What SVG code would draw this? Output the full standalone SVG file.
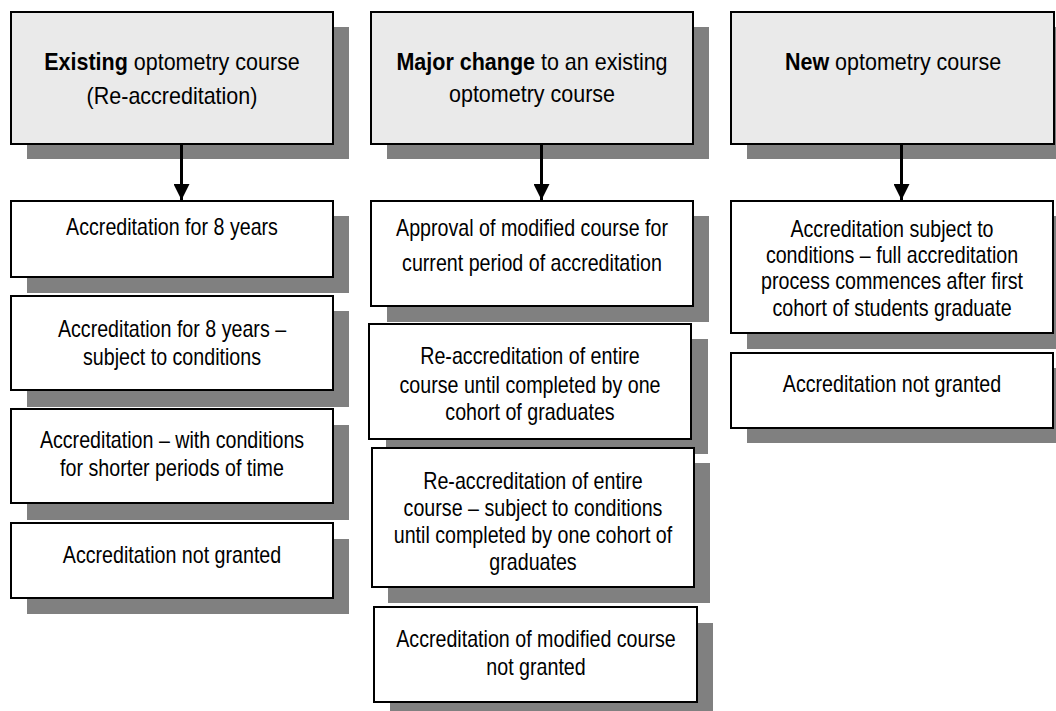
<svg xmlns="http://www.w3.org/2000/svg" width="1056" height="711" viewBox="0 0 1056 711">
<style>
.sh{fill:#808080;stroke:none}
.hd{fill:#eaeaea;stroke:#000;stroke-width:2}
.bx{fill:#fff;stroke:#000;stroke-width:2}
text{font-family:"Liberation Sans",Arial,sans-serif;font-size:23px;fill:#000;text-anchor:middle}
.b{font-weight:bold}
.c{stroke:#000;stroke-width:3;fill:none}
</style>
<defs>
<marker id="ah" markerUnits="userSpaceOnUse" markerWidth="16" markerHeight="16" refX="15" refY="7.5" orient="auto" viewBox="0 0 15 15">
<path d="M0,0 L15,7.5 L0,15 Z" fill="#000"/>
</marker>
</defs>
<rect width="1056" height="711" fill="#fff"/>

<g id="h1">
<rect class="sh" x="27" y="27" width="322" height="132"/>
<rect class="hd" x="11" y="12" width="322" height="132"/>
<text transform="translate(172 0) scale(0.935 1)"><tspan x="0" y="70"><tspan class="b">Existing</tspan> optometry course</tspan><tspan x="0" y="104">(Re-accreditation)</tspan></text>
</g>
<g id="h2">
<rect class="sh" x="387" y="27" width="322" height="132"/>
<rect class="hd" x="371" y="12" width="322" height="132"/>
<text transform="translate(532 0) scale(0.935 1)"><tspan x="0" y="70"><tspan class="b">Major change</tspan> to an existing</tspan><tspan x="0" y="102">optometry course</tspan></text>
</g>
<g id="h3">
<rect class="sh" x="747" y="27" width="322" height="132"/>
<rect class="hd" x="731" y="12" width="323" height="132"/>
<text transform="translate(893 0) scale(0.935 1)"><tspan x="0" y="70"><tspan class="b">New</tspan> optometry course</tspan></text>
</g>

<g id="a1">
<rect class="sh" x="27" y="216" width="322" height="77"/>
<rect class="bx" x="11" y="201" width="322" height="76"/>
<text transform="translate(172 0) scale(0.855 1)"><tspan x="0" y="235">Accreditation for 8 years</tspan></text>
</g>
<g id="a2">
<rect class="sh" x="27" y="311" width="322" height="96"/>
<rect class="bx" x="11" y="296" width="322" height="94"/>
<text transform="translate(172 0) scale(0.855 1)"><tspan x="0" y="337">Accreditation for 8 years –</tspan><tspan x="0" y="365">subject to conditions</tspan></text>
</g>
<g id="a3">
<rect class="sh" x="27" y="425" width="322" height="95"/>
<rect class="bx" x="11" y="409" width="322" height="94"/>
<text transform="translate(172 0) scale(0.855 1)"><tspan x="0" y="448">Accreditation – with conditions</tspan><tspan x="0" y="476">for shorter periods of time</tspan></text>
</g>
<g id="a4">
<rect class="sh" x="27" y="539" width="322" height="75"/>
<rect class="bx" x="11" y="523" width="322" height="75"/>
<text transform="translate(172 0) scale(0.855 1)"><tspan x="0" y="563">Accreditation not granted</tspan></text>
</g>

<g id="b1">
<rect class="sh" x="387" y="216" width="322" height="106"/>
<rect class="bx" x="371" y="201" width="322" height="105"/>
<text transform="translate(532 0) scale(0.855 1)"><tspan x="0" y="236">Approval of modified course for</tspan><tspan x="0" y="271">current period of accreditation</tspan></text>
</g>
<g id="b2">
<rect class="sh" x="386" y="339" width="322" height="115"/>
<rect class="bx" x="369" y="324" width="322" height="115"/>
<text transform="translate(530 0) scale(0.855 1)"><tspan x="0" y="364">Re-accreditation of entire</tspan><tspan x="0" y="393">course until completed by one</tspan><tspan x="0" y="420">cohort of graduates</tspan></text>
</g>
<g id="b3">
<rect class="sh" x="388" y="463" width="322" height="140"/>
<rect class="bx" x="372" y="448" width="322" height="139"/>
<text transform="translate(533 0) scale(0.855 1)"><tspan x="0" y="489">Re-accreditation of entire</tspan><tspan x="0" y="516">course – subject to conditions</tspan><tspan x="0" y="543">until completed by one cohort of</tspan><tspan x="0" y="570">graduates</tspan></text>
</g>
<g id="b4">
<rect class="sh" x="390" y="623" width="323" height="95"/>
<rect class="bx" x="374" y="607" width="323" height="95"/>
<text transform="translate(536 0) scale(0.855 1)"><tspan x="0" y="647">Accreditation of modified course</tspan><tspan x="0" y="675">not granted</tspan></text>
</g>

<g id="c1">
<rect class="sh" x="747" y="216" width="322" height="133"/>
<rect class="bx" x="731" y="201" width="322" height="132"/>
<text transform="translate(892 0) scale(0.855 1)"><tspan x="0" y="237">Accreditation subject to</tspan><tspan x="0" y="263">conditions – full accreditation</tspan><tspan x="0" y="289">process commences after first</tspan><tspan x="0" y="316">cohort of students graduate</tspan></text>
</g>
<g id="c2">
<rect class="sh" x="747" y="368" width="322" height="75"/>
<rect class="bx" x="731" y="353" width="322" height="75"/>
<text transform="translate(892 0) scale(0.855 1)"><tspan x="0" y="392">Accreditation not granted</tspan></text>
</g>

<g id="connectors">
<line class="c" x1="181.5" y1="145" x2="181.5" y2="200" marker-end="url(#ah)"/>
<line class="c" x1="541.5" y1="145" x2="541.5" y2="200" marker-end="url(#ah)"/>
<line class="c" x1="901.5" y1="145" x2="901.5" y2="200" marker-end="url(#ah)"/>
</g>
</svg>
